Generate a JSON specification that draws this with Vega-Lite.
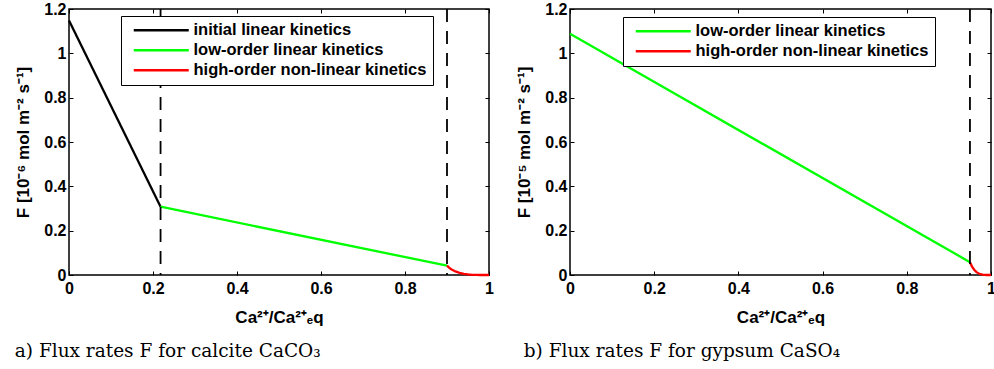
{
  "$schema": "https://vega.github.io/schema/vega-lite/v6.json",
  "background": "white",
  "padding": {"left": 14, "top": 0, "right": 0, "bottom": 0},
  "datasets": {
    "calcite": [
      {"series": "initial linear kinetics", "x": 0, "F": 1.148},
      {"series": "initial linear kinetics", "x": 0.218, "F": 0.308},
      {"series": "low-order linear kinetics", "x": 0.218, "F": 0.308},
      {"series": "low-order linear kinetics", "x": 0.9, "F": 0.042},
      {"series": "high-order non-linear kinetics", "x": 0.9, "F": 0.042},
      {"series": "high-order non-linear kinetics", "x": 0.905, "F": 0.033},
      {"series": "high-order non-linear kinetics", "x": 0.91, "F": 0.026},
      {"series": "high-order non-linear kinetics", "x": 0.92, "F": 0.016},
      {"series": "high-order non-linear kinetics", "x": 0.93, "F": 0.0097},
      {"series": "high-order non-linear kinetics", "x": 0.94, "F": 0.0051},
      {"series": "high-order non-linear kinetics", "x": 0.95, "F": 0.0025},
      {"series": "high-order non-linear kinetics", "x": 0.96, "F": 0.001},
      {"series": "high-order non-linear kinetics", "x": 0.97, "F": 0.0003},
      {"series": "high-order non-linear kinetics", "x": 0.98, "F": 0.00005},
      {"series": "high-order non-linear kinetics", "x": 1.0, "F": 0}
    ],
    "calciteRules": [{"x": 0.218}, {"x": 0.9}],
    "gypsum": [
      {"series": "low-order linear kinetics", "x": 0, "F": 1.088},
      {"series": "low-order linear kinetics", "x": 0.95, "F": 0.058},
      {"series": "high-order non-linear kinetics", "x": 0.95, "F": 0.058},
      {"series": "high-order non-linear kinetics", "x": 0.955, "F": 0.038},
      {"series": "high-order non-linear kinetics", "x": 0.96, "F": 0.024},
      {"series": "high-order non-linear kinetics", "x": 0.965, "F": 0.014},
      {"series": "high-order non-linear kinetics", "x": 0.97, "F": 0.0075},
      {"series": "high-order non-linear kinetics", "x": 0.975, "F": 0.0035},
      {"series": "high-order non-linear kinetics", "x": 0.98, "F": 0.0015},
      {"series": "high-order non-linear kinetics", "x": 0.985, "F": 0.0004},
      {"series": "high-order non-linear kinetics", "x": 0.99, "F": 0.0001},
      {"series": "high-order non-linear kinetics", "x": 1.0, "F": 0}
    ],
    "gypsumRules": [{"x": 0.95}]
  },
  "config": {
    "view": {"stroke": "black", "strokeWidth": 1.5},
    "axis": {
      "grid": false, "domain": false, "tickSize": -4, "tickColor": "black", "tickWidth": 1,
      "labelFont": "Liberation Sans, Arial, sans-serif", "labelFontWeight": "bold", "labelFontSize": 16, "labelColor": "black",
      "labelFlush": false, "labelOverlap": false, "format": "~g",
      "titleFont": "Liberation Sans, Arial, sans-serif", "titleFontWeight": "bold", "titleFontSize": 17, "titleColor": "black"
    },
    "legend": {
      "orient": "none", "title": null,
      "strokeColor": "black", "fillColor": "white", "padding": 6,
      "symbolType": "M-5,0H5", "symbolSize": 121, "symbolStrokeWidth": 2.5, "symbolOffset": 26,
      "labelFont": "Liberation Sans, Arial, sans-serif", "labelFontWeight": "bold", "labelFontSize": 16.5, "labelColor": "black",
      "labelLimit": 0, "rowPadding": 3, "labelOffset": 24
    },
    "title": {"font": "DejaVu Serif", "fontSize": 18.5, "fontWeight": "normal", "color": "black"}
  },
  "hconcat": [
    {
      "width": 420, "height": 266,
      "title": {"text": "a) Flux rates F for calcite CaCO₃", "orient": "bottom", "anchor": "start", "frame": "bounds", "offset": 17, "dx": 0},
      "resolve": {"axis": {"x": "independent", "y": "independent"}},
      "layer": [
        {
          "data": {"name": "calcite"},
          "mark": {"type": "line", "strokeWidth": 2.3},
          "encoding": {
            "x": {"field": "x", "type": "quantitative", "scale": {"domain": [0, 1], "nice": false},
                  "axis": {"title": "Ca²⁺/Ca²⁺ₑq", "values": [0, 0.2, 0.4, 0.6, 0.8, 1], "labelPadding": 9, "titlePadding": 13}},
            "y": {"field": "F", "type": "quantitative", "scale": {"domain": [0, 1.2], "nice": false},
                  "axis": {"title": "F [10⁻⁶ mol m⁻² s⁻¹]", "values": [0, 0.2, 0.4, 0.6, 0.8, 1, 1.2], "labelPadding": 7, "titlePadding": 11}},
            "color": {"field": "series", "type": "nominal", "sort": null,
                      "scale": {"domain": ["initial linear kinetics", "low-order linear kinetics", "high-order non-linear kinetics"], "range": ["#000000", "#00ff00", "#ff0000"]},
                      "legend": {"legendX": 52, "legendY": 7}},
            "detail": {"field": "series"}
          }
        },
        {
          "data": {"name": "calcite"},
          "mark": {"type": "line", "strokeOpacity": 0},
          "encoding": {
            "x": {"field": "x", "type": "quantitative", "axis": {"orient": "top", "labels": false, "title": null, "values": [0, 0.2, 0.4, 0.6, 0.8, 1]}},
            "y": {"field": "F", "type": "quantitative", "axis": {"orient": "right", "labels": false, "title": null, "values": [0, 0.2, 0.4, 0.6, 0.8, 1, 1.2]}}
          }
        },
        {
          "data": {"name": "calciteRules"},
          "mark": {"type": "rule", "color": "black", "strokeWidth": 1.8, "strokeDash": [13, 9]},
          "encoding": {"x": {"field": "x", "type": "quantitative", "axis": null}}
        }
      ]
    },
    {
      "width": 421, "height": 266,
      "title": {"text": "b) Flux rates F for gypsum CaSO₄", "orient": "bottom", "anchor": "start", "frame": "bounds", "offset": 17, "dx": 8},
      "resolve": {"axis": {"x": "independent", "y": "independent"}},
      "layer": [
        {
          "data": {"name": "gypsum"},
          "mark": {"type": "line", "strokeWidth": 2.3},
          "encoding": {
            "x": {"field": "x", "type": "quantitative", "scale": {"domain": [0, 1], "nice": false},
                  "axis": {"title": "Ca²⁺/Ca²⁺ₑq", "values": [0, 0.2, 0.4, 0.6, 0.8, 1], "labelPadding": 9, "titlePadding": 13}},
            "y": {"field": "F", "type": "quantitative", "scale": {"domain": [0, 1.2], "nice": false},
                  "axis": {"title": "F [10⁻⁵ mol m⁻² s⁻¹]", "values": [0, 0.2, 0.4, 0.6, 0.8, 1, 1.2], "labelPadding": 7, "titlePadding": 11}},
            "color": {"field": "series", "type": "nominal", "sort": null,
                      "scale": {"domain": ["low-order linear kinetics", "high-order non-linear kinetics"], "range": ["#00ff00", "#ff0000"]},
                      "legend": {"legendX": 53, "legendY": 8}},
            "detail": {"field": "series"}
          }
        },
        {
          "data": {"name": "gypsum"},
          "mark": {"type": "line", "strokeOpacity": 0},
          "encoding": {
            "x": {"field": "x", "type": "quantitative", "axis": {"orient": "top", "labels": false, "title": null, "values": [0, 0.2, 0.4, 0.6, 0.8, 1]}},
            "y": {"field": "F", "type": "quantitative", "axis": {"orient": "right", "labels": false, "title": null, "values": [0, 0.2, 0.4, 0.6, 0.8, 1, 1.2]}}
          }
        },
        {
          "data": {"name": "gypsumRules"},
          "mark": {"type": "rule", "color": "black", "strokeWidth": 1.8, "strokeDash": [13, 9]},
          "encoding": {"x": {"field": "x", "type": "quantitative", "axis": null}}
        }
      ]
    }
  ],
  "spacing": 20,
  "resolve": {"scale": {"color": "independent"}, "legend": {"color": "independent"}}
}
